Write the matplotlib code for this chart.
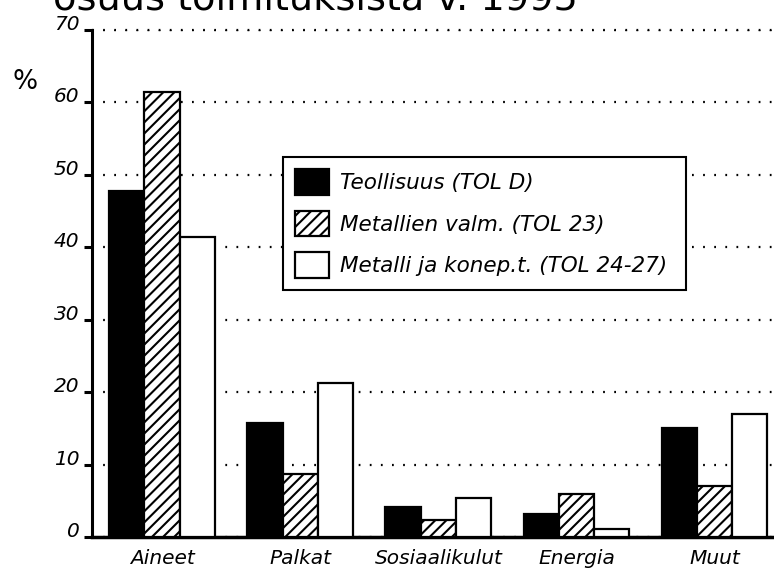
import matplotlib
matplotlib.use("Agg")
import matplotlib.pyplot as plt
import numpy as np

categories = ["Aineet", "Palkat", "Sosiaalikulut", "Energia", "Muut"]
series_names = ["Teollisuus (TOL D)", "Metallien valm. (TOL 23)", "Metalli ja konep.t. (TOL 24-27)"]
teollisuus = [47.8, 15.7, 4.1, 3.2, 15.1]
metallien_valm = [61.4, 8.7, 2.4, 6.0, 7.0]
metalli_konep = [41.4, 21.2, 5.4, 1.1, 17.0]
yticks = [0, 10, 20, 30, 40, 50, 60, 70]
title_text = "osuus toimituksista v. 1995"

plt.rcParams['font.family'] = ['DejaVu Sans']
plt.rcParams['hatch.linewidth'] = 1.5

fig = plt.figure(figsize=(7.74, 5.72), dpi=100)
ax = fig.add_axes([92/774, 35/572, (774-92)/774, 507/572])

x = np.arange(len(categories))
w = 0.255
styles = [dict(color="black", edgecolor="black"),
          dict(color="white", edgecolor="black", hatch="///"),
          dict(color="white", edgecolor="black")]
for i, (vals, name, st) in enumerate(zip([teollisuus, metallien_valm, metalli_konep], series_names, styles)):
    ax.bar(x + (i - 1) * w, vals, w, label=name, linewidth=1.6, zorder=3, **st)

ax.set_xlim(-0.507, 4.43)
ax.set_ylim(0, 70)
ax.set_yticks(yticks)
ax.set_yticklabels([str(v) for v in yticks], fontsize=14.5, style='italic')
for lab in ax.get_yticklabels():
    lab.set_verticalalignment('baseline')
ax.set_xticks(x)
ax.set_xticklabels(categories, fontsize=14.5, style='italic')
ax.tick_params(axis='x', length=0, pad=9)
ax.tick_params(axis='y', length=6, width=2.2, pad=3)

for s in ['top', 'right']:
    ax.spines[s].set_visible(False)
ax.spines['left'].set_linewidth(2.2)
ax.spines['bottom'].set_linewidth(2.5)

ax.yaxis.grid(True, linestyle=(0, (0.8, 4.2)), linewidth=1.6, color="black", zorder=0)
ax.set_axisbelow(True)
ax.axhline(70, linestyle=(0, (0.8, 4.2)), linewidth=1.6, color="black", zorder=0, clip_on=False)

leg = ax.legend(loc='upper left', bbox_to_anchor=(0.28, 0.4536, 0.591, 0.296), mode='expand',
                prop={'style': 'italic', 'size': 15.5},
                fancybox=False, framealpha=1, edgecolor='black',
                handlelength=1.58, handleheight=1.44, labelspacing=0.74, handletextpad=0.47,
                borderpad=0.58, borderaxespad=0)
leg.get_frame().set_linewidth(1.5)
leg.set_zorder(5)

fig.text(25/774, 1 - 82/572, "%", fontsize=19, ha='center', va='center')
fig.text(53/774, 1 - 9/572, title_text, fontsize=27.5, ha='left', va='baseline')

fig.savefig("out.png", dpi=100)
